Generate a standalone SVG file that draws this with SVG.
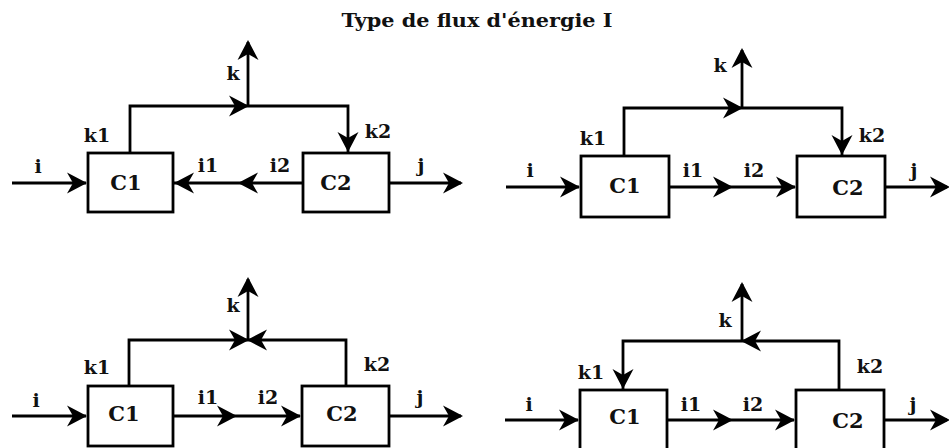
<svg xmlns="http://www.w3.org/2000/svg" xmlns:xlink="http://www.w3.org/1999/xlink" width="949" height="448" viewBox="0 0 949 448">
<defs>
<path id="ah" d="M0,0 L-20,-10.5 L-14,0 L-20,10.5 Z" fill="#000"/>
<style>
.box{fill:#fff;stroke:#000;stroke-width:2.8}
.ln{fill:none;stroke:#000;stroke-width:2.8}
</style>
</defs>
<rect width="949" height="448" fill="#fff"/>
<text x="477" y="27" font-family="DejaVu Serif, serif" font-weight="bold" font-size="19" fill="#111" text-anchor="middle" textLength="271" lengthAdjust="spacingAndGlyphs">Type de flux d'énergie I</text>

<g id="connectors">
<path class="ln" d="M12,183 H86"/>
<path class="ln" d="M303,183 H174"/>
<path class="ln" d="M389,183 H461"/>
<path class="ln" d="M130,153 V106 H348 V152"/>
<path class="ln" d="M248,106 V42"/>
<use xlink:href="#ah" transform="translate(87,183)"/>
<use xlink:href="#ah" transform="translate(238,183) rotate(180)"/>
<use xlink:href="#ah" transform="translate(174,183) rotate(180)"/>
<use xlink:href="#ah" transform="translate(463,183)"/>
<use xlink:href="#ah" transform="translate(249,106)"/>
<use xlink:href="#ah" transform="translate(348,152) rotate(90)"/>
<use xlink:href="#ah" transform="translate(248,40) rotate(-90)"/>

<path class="ln" d="M506,187 H579"/>
<path class="ln" d="M669,187 H795"/>
<path class="ln" d="M885,187 H947"/>
<path class="ln" d="M624,156 V108 H842 V155"/>
<path class="ln" d="M742,108 V50"/>
<use xlink:href="#ah" transform="translate(580,187)"/>
<use xlink:href="#ah" transform="translate(733,187)"/>
<use xlink:href="#ah" transform="translate(796,187)"/>
<use xlink:href="#ah" transform="translate(950,187)"/>
<use xlink:href="#ah" transform="translate(743,108)"/>
<use xlink:href="#ah" transform="translate(842,155) rotate(90)"/>
<use xlink:href="#ah" transform="translate(742,48) rotate(-90)"/>

<path class="ln" d="M12,416 H86"/>
<path class="ln" d="M173,416 H300"/>
<path class="ln" d="M389,416 H461"/>
<path class="ln" d="M129,386 V340 H346 V386"/>
<path class="ln" d="M248,340 V279"/>
<use xlink:href="#ah" transform="translate(87,416)"/>
<use xlink:href="#ah" transform="translate(237,416)"/>
<use xlink:href="#ah" transform="translate(301,416)"/>
<use xlink:href="#ah" transform="translate(463,416)"/>
<use xlink:href="#ah" transform="translate(249,340)"/>
<use xlink:href="#ah" transform="translate(247,340) rotate(180)"/>
<use xlink:href="#ah" transform="translate(248,277) rotate(-90)"/>

<path class="ln" d="M505,420 H578"/>
<path class="ln" d="M667,420 H794"/>
<path class="ln" d="M884,420 H947"/>
<path class="ln" d="M839,390 V341 H623 V389"/>
<path class="ln" d="M742,341 V284"/>
<use xlink:href="#ah" transform="translate(579,420)"/>
<use xlink:href="#ah" transform="translate(733,420)"/>
<use xlink:href="#ah" transform="translate(795,420)"/>
<use xlink:href="#ah" transform="translate(950,420)"/>
<use xlink:href="#ah" transform="translate(741,341) rotate(180)"/>
<use xlink:href="#ah" transform="translate(623,389) rotate(90)"/>
<use xlink:href="#ah" transform="translate(742,282) rotate(-90)"/>
</g>

<g font-family="DejaVu Serif, serif" font-weight="bold" fill="#111" text-anchor="middle" font-size="19">
<g id="p1-C1"><rect class="box" x="88" y="153" width="85" height="59"/><text x="126" y="190" font-size="21">C1</text></g>
<g id="p1-C2"><rect class="box" x="303" y="153" width="86" height="59"/><text x="336" y="190" font-size="21">C2</text></g>
<g id="p1-labels">
<text x="38" y="173">i</text>
<text x="208" y="172">i1</text>
<text x="280" y="172">i2</text>
<text x="421" y="172">j</text>
<text x="233" y="80">k</text>
<text x="97" y="142">k1</text>
<text x="378" y="138">k2</text>
</g>

<g id="p2-C1"><rect class="box" x="581" y="156" width="88" height="61"/><text x="625" y="193" font-size="21">C1</text></g>
<g id="p2-C2"><rect class="box" x="797" y="156" width="88" height="61"/><text x="848" y="195" font-size="21">C2</text></g>
<g id="p2-labels">
<text x="530" y="177">i</text>
<text x="693" y="177">i1</text>
<text x="754" y="177">i2</text>
<text x="914" y="177">j</text>
<text x="720" y="72">k</text>
<text x="593" y="145">k1</text>
<text x="872" y="142">k2</text>
</g>

<g id="p3-C1"><rect class="box" x="88" y="386" width="85" height="60"/><text x="124" y="421" font-size="21">C1</text></g>
<g id="p3-C2"><rect class="box" x="302" y="386" width="87" height="60"/><text x="342" y="421" font-size="21">C2</text></g>
<g id="p3-labels">
<text x="36" y="407">i</text>
<text x="208" y="404">i1</text>
<text x="268" y="404">i2</text>
<text x="420" y="404">j</text>
<text x="233" y="312">k</text>
<text x="97" y="374">k1</text>
<text x="377" y="371">k2</text>
</g>

<g id="p4-C1"><rect class="box" x="580" y="390" width="87" height="60"/><text x="625" y="424" font-size="21">C1</text></g>
<g id="p4-C2"><rect class="box" x="796" y="390" width="88" height="60"/><text x="848" y="428" font-size="21">C2</text></g>
<g id="p4-labels">
<text x="529" y="411">i</text>
<text x="691" y="411">i1</text>
<text x="753" y="411">i2</text>
<text x="913" y="411">j</text>
<text x="725" y="327">k</text>
<text x="591" y="379">k1</text>
<text x="870" y="373">k2</text>
</g>
</g>
</svg>
